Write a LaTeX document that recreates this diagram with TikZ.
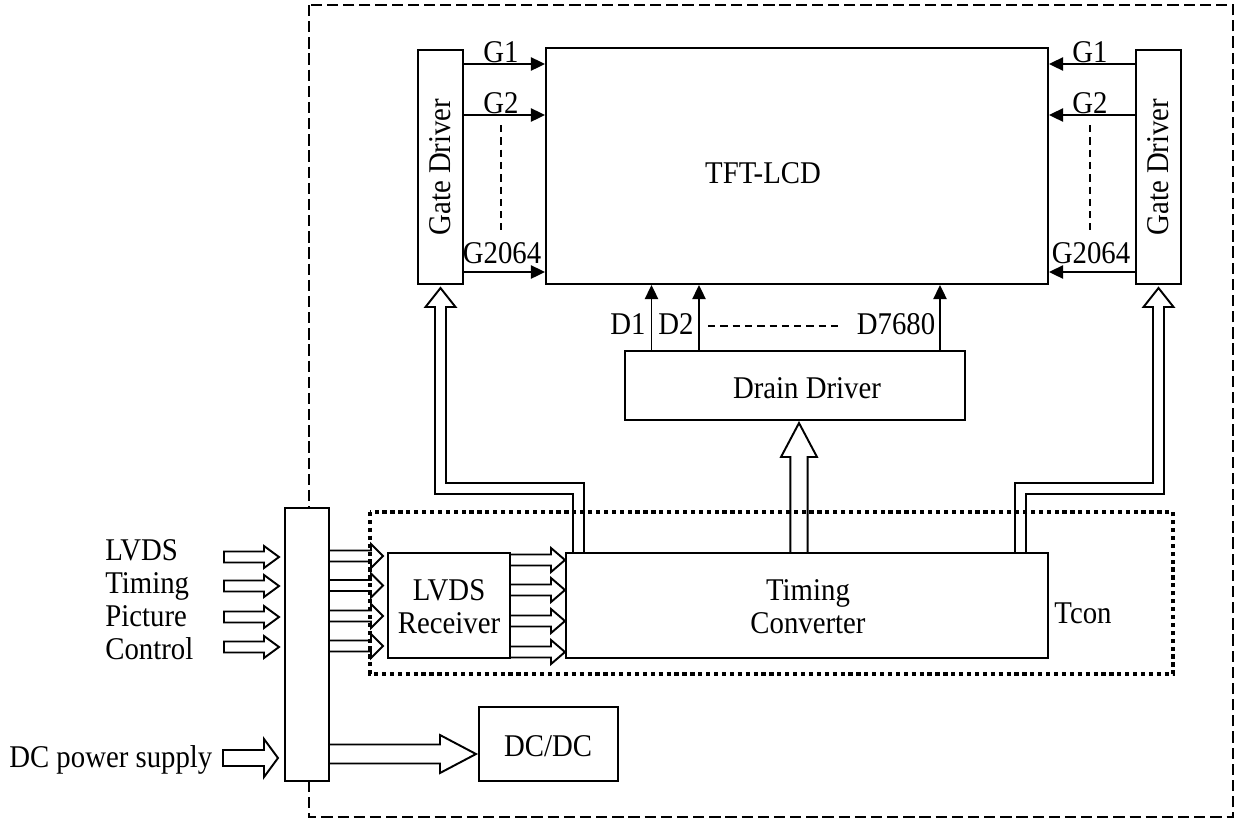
\documentclass[tikz,border=0pt]{standalone}
\usepackage{fontspec}
\setmainfont[FakeStretch=0.91]{Liberation Serif}
\usetikzlibrary{arrows.meta,calc,fit}

% horizontal hollow arrow: x1, xtip, y, shaft half, head half, head length
\newcommand\hollowR[6]{%
  \draw[hol] (#1,#3-#4) -- (#2-#6,#3-#4) -- (#2-#6,#3-#5) -- (#2,#3)
    -- (#2-#6,#3+#5) -- (#2-#6,#3+#4) -- (#1,#3+#4) -- cycle;}
% vertical hollow arrow pointing up: x, ybottom, ytip, shaft half, head half, head length
\newcommand\hollowU[6]{%
  \draw[hol] (#1-#4,#2) -- (#1-#4,#3+#6) -- (#1-#5,#3+#6) -- (#1,#3)
    -- (#1+#5,#3+#6) -- (#1+#4,#3+#6) -- (#1+#4,#2) -- cycle;}

\begin{document}
\begin{tikzpicture}[x=0.02cm,y=-0.02cm,
  font=\fontsize{18}{18.8}\selectfont,
  box/.style={draw,line width=1.1pt,inner sep=0pt,fill=white},
  sig/.style={line width=1pt,-{Triangle[length=8pt,width=7.5pt]}},
  hol/.style={draw,line width=1.1pt,line join=miter},
  lbl/.style={inner sep=0pt},
  fine dash/.style={line width=0.9pt,dash pattern=on 4.2pt off 2.8pt},
]
\useasboundingbox (0,0) rectangle (1240,819);

% outer dashed frame
\draw[line width=1.2pt,dash pattern=on 6.4pt off 2.8pt] (309,5) rectangle (1233,817);

% boxes
\node[box,fit={(418,50)(463,284)}] (gl) {};
\node[box,fit={(546,48)(1048,284)}] (tft) {};
\node[box,fit={(1136,50)(1181,284)}] (gr) {};
\node[box,fit={(625,351)(965,420)}] (drain) {};
\node[box,fit={(566,553)(1048,658)}] (tc) {};
\node[box,fit={(388,553)(510,658)}] (rx) {};
\node[box,fit={(285,508)(329,781)}] (conn) {};
\node[box,fit={(479,707)(618,781)}] (dcdc) {};

% Tcon dotted frame
\draw[line width=2pt,dash pattern=on 2.4pt off 2.1pt] (370,512) rectangle (1173,674);

% texts
\node[lbl] (tfttxt) at (763,173) {TFT-LCD};
\node[lbl,rotate=90] (gltxt) at (440.5,167) {Gate Driver};
\node[lbl,rotate=90] (grtxt) at (1158.5,167) {Gate Driver};
\node[lbl] (draintxt) at (807,388) {Drain Driver};
\node[lbl,align=center] (tctxt) at (808,606.5) {Timing\\Converter};
\node[lbl,align=center] (rxtxt) at (449,606.5) {LVDS\\Receiver};
\node[lbl,anchor=base] (tcon) at (1083,623) {Tcon};
\node[lbl] (dcdctxt) at (548,746) {DC/DC};
\node[lbl,anchor=base west] (in1) at (105,560) {LVDS};
\node[lbl,anchor=base west] (in2) at (105,593) {Timing};
\node[lbl,anchor=base west] (in3) at (105,626) {Picture};
\node[lbl,anchor=base west] (in4) at (105,659) {Control};
\node[lbl,anchor=base west] (in5) at (9,767) {DC power supply};

% gate signal levels
\coordinate (yg1) at (0,64);
\coordinate (yg2) at (0,115);
\coordinate (yg3) at (0,272);
\draw[sig] (gl.east |- yg1) -- (tft.west |- yg1);
\draw[sig] (gl.east |- yg2) -- (tft.west |- yg2);
\draw[sig] (gl.east |- yg3) -- (tft.west |- yg3);
\draw[sig] (gr.west |- yg1) -- (tft.east |- yg1);
\draw[sig] (gr.west |- yg2) -- (tft.east |- yg2);
\draw[sig] (gr.west |- yg3) -- (tft.east |- yg3);
\node[lbl,anchor=base] at (501,62) {G1};
\node[lbl,anchor=base] at (501,113) {G2};
\node[lbl,anchor=base] at (502,263) {G2064};
\node[lbl,anchor=base] at (1090,62) {G1};
\node[lbl,anchor=base] at (1090,113) {G2};
\node[lbl,anchor=base] at (1091,263) {G2064};
\draw[fine dash] (501,125) -- (501,230);
\draw[fine dash] (1090,125) -- (1090,230);

% drain signals
\coordinate (xd1) at (651.5,0);
\coordinate (xd2) at (699,0);
\coordinate (xd3) at (940,0);
\draw[sig] (drain.north -| xd1) -- (tft.south -| xd1);
\draw[sig] (drain.north -| xd2) -- (tft.south -| xd2);
\draw[sig] (drain.north -| xd3) -- (tft.south -| xd3);
\node[lbl,anchor=base] at (628,334) {D1};
\node[lbl,anchor=base] at (676,334) {D2};
\node[lbl,anchor=base] at (896,334) {D7680};
\draw[fine dash] (708,326) -- (840,326);

% input hollow arrows
\hollowR{224}{279}{557}{5.5}{11}{15}
\hollowR{224}{279}{586}{5.5}{11}{15}
\hollowR{224}{279}{617}{5.5}{11}{15}
\hollowR{224}{279}{647}{5.5}{11}{15}
\hollowR{223}{278}{758}{8}{19}{14}

% connector to receiver
\hollowR{329}{383}{556}{5.5}{12}{12}
\hollowR{329}{383}{585.5}{5.5}{12}{12}
\hollowR{329}{383}{616}{5.5}{12}{12}
\hollowR{329}{383}{646}{5.5}{12}{12}

% receiver to timing converter
\hollowR{510}{565}{560}{5.5}{12}{14}
\hollowR{510}{565}{590}{5.5}{12}{14}
\hollowR{510}{565}{621}{5.5}{12}{14}
\hollowR{510}{565}{652}{5.5}{12}{14}

% connector to DC/DC
\hollowR{329}{476}{754}{9.5}{19}{36}

% timing converter to drain driver
\hollowU{799}{553}{423}{8.7}{18}{34}

% timing converter to gate drivers (bent buses)
\draw[hol] (584,553) -- (584,483) -- (446,483) -- (446,307) -- (455.5,307)
  -- (440.5,288) -- (425.5,307) -- (435,307) -- (435,494) -- (573,494)
  -- (573,553) -- cycle;
\draw[hol] (1015,553) -- (1015,483) -- (1153,483) -- (1153,307) -- (1143.5,307)
  -- (1158.5,288) -- (1173.5,307) -- (1164,307) -- (1164,494) -- (1026,494)
  -- (1026,553) -- cycle;
\end{tikzpicture}
\end{document}
